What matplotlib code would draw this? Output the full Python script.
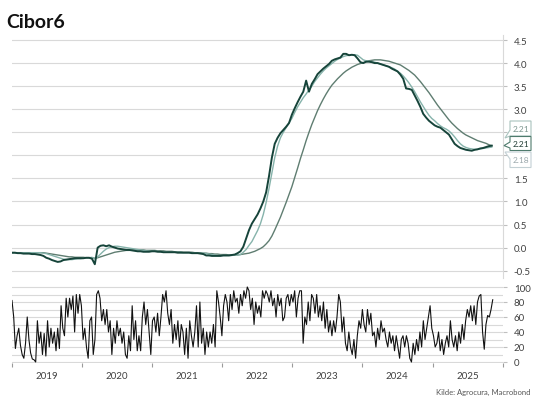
import numpy as np
import pandas as pd
import matplotlib
matplotlib.use("Agg")
import matplotlib.pyplot as plt
import matplotlib.dates as mdates
from matplotlib.patches import Polygon

plt.rcParams['font.family'] = ['Lato', 'DejaVu Sans']

# ---------------- data ----------------
cibor6 = [
    -0.11, -0.11, -0.12, -0.12, -0.13, -0.13, -0.13, -0.14, -0.14, -0.15, -0.16, -0.18,
    -0.22, -0.24, -0.27, -0.29, -0.31, -0.30, -0.27, -0.26, -0.25, -0.24, -0.23, -0.23,
    -0.23, -0.23, -0.22, -0.22, -0.24, -0.36, 0.00, 0.04, 0.05, 0.03, 0.05, 0.02,
    0.00, -0.02, -0.03, -0.04, -0.05, -0.05, -0.06, -0.07, -0.08, -0.08, -0.09, -0.09,
    -0.09, -0.08, -0.08, -0.09, -0.09, -0.10, -0.10, -0.10, -0.10, -0.10, -0.11, -0.11,
    -0.11, -0.11, -0.11, -0.12, -0.12, -0.12, -0.13, -0.14, -0.17, -0.17, -0.18, -0.18,
    -0.18, -0.18, -0.17, -0.17, -0.17, -0.16, -0.15, -0.12, -0.08, 0.02, 0.20, 0.38,
    0.52, 0.62, 0.72, 0.85, 1.00, 1.20, 1.55, 1.95, 2.25, 2.38, 2.48, 2.55,
    2.62, 2.70, 2.88, 3.02, 3.15, 3.27, 3.38, 3.62, 3.38, 3.55, 3.65, 3.76,
    3.82, 3.88, 3.93, 3.98, 4.05, 4.08, 4.10, 4.12, 4.20, 4.20, 4.17, 4.18,
    4.17, 4.10, 4.02, 4.00, 4.03, 4.03, 4.02, 4.00, 4.00, 3.98, 3.96, 3.94,
    3.92, 3.88, 3.85, 3.82, 3.75, 3.66, 3.45, 3.44, 3.42, 3.30, 3.18, 3.05,
    2.90, 2.82, 2.75, 2.70, 2.65, 2.62, 2.60, 2.55, 2.50, 2.45, 2.35, 2.25,
    2.20, 2.16, 2.14, 2.12, 2.11, 2.10, 2.12, 2.13, 2.15, 2.16, 2.18, 2.20, 2.21,
]
ma_short = [
    -0.11, -0.11, -0.11, -0.11, -0.11, -0.11, -0.11, -0.11, -0.11, -0.11, -0.11, -0.12,
    -0.13, -0.15, -0.17, -0.19, -0.21, -0.23, -0.25, -0.26, -0.26, -0.26, -0.25, -0.24,
    -0.24, -0.23, -0.22, -0.22, -0.21, -0.24, -0.20, -0.14, -0.08, -0.03, 0.00, 0.02,
    0.03, 0.03, 0.02, 0.01, 0.00, -0.01, -0.02, -0.03, -0.04, -0.05, -0.06, -0.07,
    -0.08, -0.08, -0.08, -0.08, -0.09, -0.09, -0.09, -0.10, -0.10, -0.10, -0.10, -0.10,
    -0.11, -0.11, -0.11, -0.11, -0.11, -0.12, -0.12, -0.12, -0.13, -0.14, -0.15, -0.16,
    -0.17, -0.17, -0.17, -0.17, -0.17, -0.17, -0.16, -0.16, -0.15, -0.10, -0.04, 0.05,
    0.13, 0.25, 0.37, 0.52, 0.72, 0.98, 1.28, 1.62, 1.95, 2.20, 2.38, 2.50,
    2.60, 2.70, 2.80, 2.93, 3.05, 3.15, 3.25, 3.33, 3.42, 3.50, 3.60, 3.68,
    3.76, 3.83, 3.89, 3.94, 3.99, 4.04, 4.08, 4.11, 4.14, 4.16, 4.17, 4.18,
    4.18, 4.17, 4.12, 4.07, 4.05, 4.04, 4.03, 4.02, 4.00, 3.98, 3.96, 3.94,
    3.92, 3.90, 3.87, 3.82, 3.78, 3.72, 3.65, 3.57, 3.48, 3.38, 3.27, 3.16,
    3.06, 2.96, 2.87, 2.80, 2.75, 2.69, 2.64, 2.60, 2.57, 2.53, 2.47, 2.40,
    2.32, 2.25, 2.20, 2.17, 2.15, 2.14, 2.13, 2.13, 2.14, 2.15, 2.16, 2.17, 2.18,
]
ma_long = [
    -0.11, -0.11, -0.11, -0.11, -0.11, -0.11, -0.11, -0.11, -0.11, -0.11, -0.11, -0.11,
    -0.12, -0.13, -0.14, -0.15, -0.16, -0.17, -0.18, -0.19, -0.20, -0.20, -0.21, -0.21,
    -0.21, -0.21, -0.22, -0.22, -0.22, -0.23, -0.22, -0.20, -0.18, -0.16, -0.14, -0.12,
    -0.10, -0.09, -0.08, -0.07, -0.06, -0.06, -0.05, -0.05, -0.05, -0.05, -0.05, -0.06,
    -0.06, -0.06, -0.06, -0.07, -0.07, -0.07, -0.08, -0.08, -0.08, -0.09, -0.09, -0.09,
    -0.10, -0.10, -0.10, -0.10, -0.11, -0.11, -0.11, -0.12, -0.12, -0.13, -0.13, -0.14,
    -0.14, -0.15, -0.15, -0.15, -0.16, -0.16, -0.16, -0.16, -0.15, -0.14, -0.13, -0.12,
    -0.10, -0.08, -0.05, -0.02, 0.02, 0.08, 0.15, 0.25, 0.38, 0.52, 0.66, 0.82,
    0.98, 1.15, 1.32, 1.52, 1.72, 1.93, 2.12, 2.32, 2.50, 2.67, 2.82, 2.97,
    3.10, 3.22, 3.33, 3.43, 3.52, 3.59, 3.66, 3.72, 3.78, 3.83, 3.87, 3.91,
    3.94, 3.97, 3.99, 4.01, 4.03, 4.05, 4.06, 4.07, 4.07, 4.07, 4.06, 4.05,
    4.04, 4.02, 4.00, 3.98, 3.96, 3.92, 3.88, 3.84, 3.79, 3.74, 3.67, 3.60,
    3.52, 3.44, 3.36, 3.27, 3.18, 3.09, 3.01, 2.93, 2.85, 2.77, 2.70, 2.64,
    2.58, 2.53, 2.48, 2.44, 2.41, 2.38, 2.35, 2.32, 2.30, 2.28, 2.26, 2.23, 2.21,
]
oscillator = [
    82, 60, 18, 35, 45, 22, 10, 5, 25, 60, 30, 12, 4, 3, 0, 55, 25, 40, 10, 38,
    8, 55, 20, 45, 25, 40, 15, 45, 18, 75, 45, 35, 85, 60, 85, 70, 88, 40, 90, 65,
    90, 75, 30, 45, 20, 5, 55, 60, 10, 30, 90, 95, 85, 55, 70, 50, 70, 40, 55, 10,
    45, 25, 55, 35, 45, 25, 40, 10, 5, 35, 15, 75, 30, 55, 15, 35, 15, 60, 80, 50,
    70, 40, 10, 55, 60, 40, 65, 35, 60, 90, 80, 95, 65, 50, 70, 25, 50, 30, 55, 20,
    50, 40, 10, 45, 5, 55, 35, 20, 40, 75, 20, 80, 25, 45, 10, 40, 20, 40, 25, 50,
    20, 95, 80, 60, 35, 75, 90, 80, 55, 90, 70, 95, 80, 85, 65, 90, 75, 95, 85, 100,
    95, 70, 85, 50, 80, 65, 75, 60, 95, 85, 95, 90, 80, 95, 75, 85, 60, 90, 75, 85,
    55, 60, 85, 90, 75, 90, 80, 95, 60, 85, 95, 95, 25, 60, 50, 80, 55, 90, 85, 65,
    90, 60, 75, 55, 80, 45, 70, 40, 55, 35, 55, 40, 60, 90, 80, 40, 60, 25, 15, 40,
    20, 10, 30, 5, 35, 55, 45, 70, 50, 40, 70, 50, 65, 35, 40, 20, 45, 30, 55, 40,
    45, 30, 20, 40, 25, 35, 15, 35, 20, 5, 30, 35, 20, 35, 25, 5, 0, 25, 10, 30,
    15, 40, 20, 55, 30, 45, 60, 75,
    45, 35, 20, 25, 40, 15, 30, 10, 25, 35, 20, 55, 30, 20, 35, 15, 40, 25, 50, 30,
    55, 70, 60, 75, 55, 75, 50, 80, 88, 90, 40, 17, 50, 62, 60, 70, 83,
]
year_labels = [str(y) for y in range(2019, 2026)]
top_ticks = [-0.5, 0.0, 0.5, 1.0, 1.5, 2.0, 2.5, 3.0, 3.5, 4.0, 4.5]
hidden_top_labels = [2.0, 2.5]           # covered by the end-value boxes
bottom_ticks = [0, 20, 40, 60, 80, 100]
end_labels = ["2.21", "2.21", "2.18"]   # long MA, Cibor6, short MA

# ---------------- figure ----------------
W, H = 536, 402
fig = plt.figure(figsize=(W / 100, H / 100), dpi=100)
fig.patch.set_facecolor("white")


def fr(x0, y0, x1, y1):
    return [x0 / W, 1 - y1 / H, (x1 - x0) / W, (y1 - y0) / H]


def fp(x, y):
    return (x / W, 1 - y / H)


ax1 = fig.add_axes(fr(12, 36.4, 502.7, 278.6))
ax2 = fig.add_axes(fr(12, 287.25, 502.7, 363.75))

dates_main = pd.date_range("2019-01-01", "2025-11-05", periods=len(cibor6))
dates_osc = pd.date_range("2019-01-01", "2025-11-10", periods=len(oscillator))

C_MAIN = "#16443a"
C_SHORT = "#86b3ab"
C_LONG = "#5f7d71"
GRID = "#d9d9d9"
TXT = "#404040"

ax1.plot(dates_main, ma_long, color=C_LONG, lw=1.0, zorder=3)
ax1.plot(dates_main, ma_short, color=C_SHORT, lw=1.0, zorder=4)
ax1.plot(dates_main, cibor6, color=C_MAIN, lw=1.4, zorder=5)

xmin = pd.Timestamp("2019-01-01")
xmax = pd.Timestamp("2026-01-01")
for ax in (ax1, ax2):
    ax.set_xlim(xmin, xmax)
    ax.set_facecolor("white")
    ax.yaxis.tick_right()
    for s in ("left", "top", "bottom"):
        ax.spines[s].set_visible(False)

ax1.set_ylim(-0.65, 4.6)
ax1.set_yticks(top_ticks)
ax1.set_yticklabels(["" if v in hidden_top_labels else f"{v:.1f}"
                     for v in top_ticks])
ax1.grid(axis="y", color=GRID, lw=0.8)
ax1.set_axisbelow(True)
ax1.spines["right"].set_color(GRID)
ax1.spines["right"].set_linewidth(0.8)
ax1.tick_params(axis="y", length=3, color="#bfbfbf", labelsize=7,
                labelcolor=TXT, pad=5)
ax1.set_xticks([])

ax2.plot(dates_osc, oscillator, color="#111111", lw=0.8, zorder=3)
ax2.set_ylim(-1, 101)
ax2.set_yticks(bottom_ticks)
ax2.set_yticks(list(range(10, 100, 20)), minor=True)
ax2.grid(axis="y", which="both", color=GRID, lw=0.8)
ax2.set_axisbelow(True)
ax2.spines["right"].set_visible(False)
ax2.tick_params(axis="y", which="both", length=3, color="#bfbfbf",
                labelsize=7, labelcolor=TXT, pad=5)
ax2.tick_params(axis="y", which="minor", length=0)

ax2.xaxis.set_major_locator(mdates.YearLocator())
ax2.xaxis.set_minor_locator(mdates.MonthLocator(bymonth=7, bymonthday=1))
ax2.xaxis.set_major_formatter(plt.NullFormatter())
ax2.xaxis.set_minor_formatter(mdates.DateFormatter("%Y"))
ax2.tick_params(axis="x", which="major", length=3, color="#9a9a9a",
                direction="out")
ax2.tick_params(axis="x", which="minor", length=0, labelsize=7,
                labelcolor=TXT, pad=6)

# ---------------- end-value boxes ----------------
boxes = [
    ([(510, 122), (531, 122), (531, 137), (510, 137), (505, 139), (510, 131)],
     129.5, "#a9c3be", "#7a948d"),
    ([(510, 137.5), (531, 137.5), (531, 151.5), (510, 151.5), (510, 149),
      (504, 146.6), (510, 143)], 145.0, "#4f7b6d", "#1f3a32"),
    ([(510, 153), (531, 153), (531, 168.5), (510, 168.5), (510, 160),
      (505, 153)], 161.0, "#c3d0d4", "#9aa7ab"),
]
for (poly, ty, ec, tc), lab in zip(boxes, end_labels):
    fig.patches.append(Polygon([fp(x, y) for x, y in poly], closed=True,
                               transform=fig.transFigure, facecolor="white",
                               edgecolor=ec, lw=0.8, zorder=10))
    fig.text(520.5 / W, 1 - ty / H, lab, ha="center", va="center",
             fontsize=6, color=tc, zorder=11)

# ---------------- texts ----------------
fig.text(6 / W, 1 - 27.5 / H, "Cibor6", fontsize=14, fontweight="bold",
         color="#111111", va="baseline", ha="left")
fig.text(530 / W, 1 - 392 / H, "Kilde: Agrocura, Macrobond", ha="right",
         va="center", fontsize=5.5, color="#555555")

fig.savefig("out.png", dpi=100, facecolor="white")
